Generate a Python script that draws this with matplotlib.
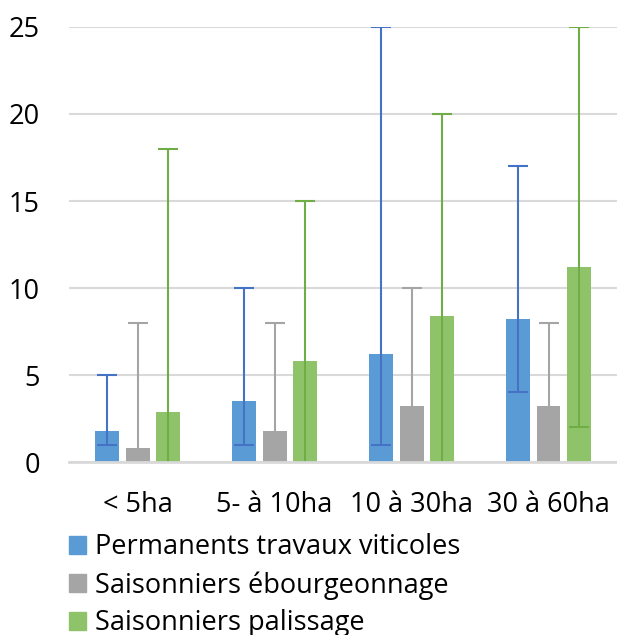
import numpy as np
import matplotlib.pyplot as plt
from matplotlib.patches import Patch

# chart data
categories = ['< 5ha', '5- à 10ha', '10 à 30ha', '30 à 60ha']
series = ['Permanents travaux viticoles', 'Saisonniers ébourgeonnage', 'Saisonniers palissage']

permanents = [1.8, 3.5, 6.2, 8.2]
permanents_min = [1, 1, 1, 4]
permanents_max = [5, 10, 25, 17]

ebourgeonnage = [0.8, 1.8, 3.2, 3.2]
ebourgeonnage_min = [0, 0, 0, 0]
ebourgeonnage_max = [8, 8, 10, 8]

palissage = [2.9, 5.8, 8.4, 11.2]
palissage_min = [0, 0, 0, 2]
palissage_max = [18, 15, 20, 25]

bar_colors = ['#5B9BD5', '#A5A5A5', '#8FC36A']
err_colors = ['#4472C4', '#A5A5A5', '#70AD47']

plt.rcParams['font.family'] = ['Open Sans', 'DejaVu Sans']

fig = plt.figure(figsize=(6.17, 6.35), dpi=100)
ax = fig.add_axes([0.112, 0.2724, 0.888, 0.6851])

x = np.arange(len(categories))
width = 0.175
step = 0.222

data = [(permanents, permanents_min, permanents_max),
        (ebourgeonnage, ebourgeonnage_min, ebourgeonnage_max),
        (palissage, palissage_min, palissage_max)]

for i, (vals, lo, hi) in enumerate(data):
    vals = np.array(vals)
    pos = x + (i - 1) * step
    ax.bar(pos, vals, width, color=bar_colors[i], zorder=2)
    yerr = [vals - np.array(lo), np.array(hi) - vals]
    ax.errorbar(pos, vals, yerr=yerr, fmt='none', ecolor=err_colors[i],
                elinewidth=1.5, capsize=7, capthick=1.5, zorder=3)

# baseline drawn over the bars, hides the caps sitting at 0
ax.axhline(0, color='#D9D9D9', linewidth=2, zorder=4, clip_on=False)

ax.set_xlim(-0.5, 3.5)
ax.set_ylim(0, 25)
ax.set_yticks([0, 5, 10, 15, 20, 25])
ax.set_xticks(x)
ax.set_xticklabels(categories)
ax.yaxis.grid(True, color='#D9D9D9', linewidth=1.5, zorder=0)
ax.set_axisbelow(True)
for s in ax.spines.values():
    s.set_visible(False)
ax.tick_params(axis='both', length=0, labelsize=19.5, colors='black')
ax.tick_params(axis='y', pad=21)
ax.tick_params(axis='x', pad=21)

handles = [Patch(color=c) for c in bar_colors]
fig.legend(handles, series, loc='upper left', bbox_to_anchor=(0.094, 0.177),
           frameon=False, fontsize=19.5, handlelength=0.63, handleheight=0.63,
           handletextpad=0.33, labelspacing=0.36, borderaxespad=0)

fig.savefig('out.png', dpi=100)
